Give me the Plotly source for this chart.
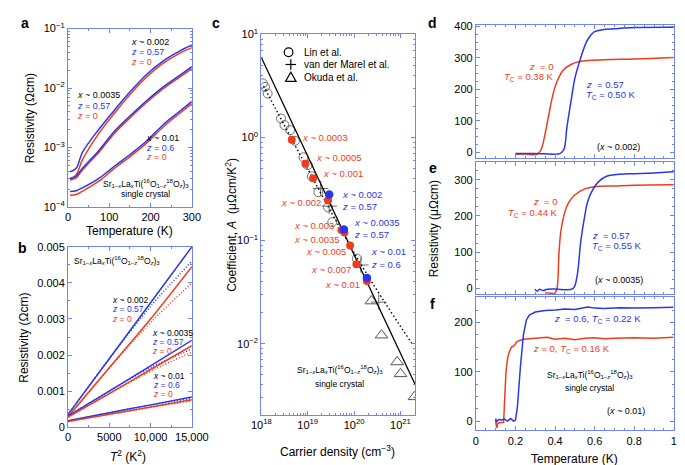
import plotly.graph_objects as go

W, H = 685, 465
def X(px): return px / W
def Y(py): return 1 - py / H

RED = "#f03c1e"
BLUE = "#2a36ea"
AXC = "#7384f0"
GRAY = "#6e6e6e"
FONT = "Liberation Sans, Arial, sans-serif"

# ---------------- data ----------------
# Panel a: resistivity vs temperature (log)
T_a = [5, 20, 35, 74, 113, 152, 191, 230, 269, 300]
a_002_blue = [3.9e-4, 4.5e-4, 8.3e-4, 2.0e-3, 4.3e-3, 8.9e-3, 1.71e-2, 2.84e-2, 4.14e-2, 5.3e-2]
a_002_red = [3.0e-4, 3.5e-4, 6.2e-4, 1.7e-3, 3.8e-3, 8.0e-3, 1.55e-2, 2.6e-2, 3.8e-2, 4.8e-2]
a_0035_blue = [3.0e-4, 3.3e-4, 4.5e-4, 8.8e-4, 1.9e-3, 3.5e-3, 6.2e-3, 1.04e-2, 1.61e-2, 2.29e-2]
a_0035_red = [2.85e-4, 3.1e-4, 4.2e-4, 8.2e-4, 1.75e-3, 3.25e-3, 5.8e-3, 9.7e-3, 1.5e-2, 2.12e-2]
a_01_blue = [1.83e-4, 1.88e-4, 2.1e-4, 3.0e-4, 4.9e-4, 7.8e-4, 1.3e-3, 2.4e-3, 4.0e-3, 6.0e-3]
a_01_red = [1.58e-4, 1.63e-4, 1.85e-4, 2.7e-4, 4.5e-4, 7.2e-4, 1.2e-3, 2.2e-3, 3.7e-3, 5.5e-3]

# Panel b: resistivity vs T^2 (solid and dotted)
T2_b = [0, 5000, 10000, 15000]
b_002_blue = [3.5e-4, 1.9e-3, 3.45e-3, 5.0e-3]
b_002_red = [2.9e-4, 1.65e-3, 3.0e-3, 4.45e-3]
b_002_blue_dot = [3.5e-4, 1.9e-3, 3.35e-3, 4.6e-3]
b_002_red_dot = [2.9e-4, 1.63e-3, 2.9e-3, 4.0e-3]
b_0035_blue = [3.1e-4, 1.0e-3, 1.7e-3, 2.41e-3]
b_0035_red = [2.8e-4, 9.3e-4, 1.6e-3, 2.26e-3]
b_0035_blue_dot = [3.1e-4, 1.0e-3, 1.65e-3, 2.17e-3]
b_0035_red_dot = [2.8e-4, 9.3e-4, 1.55e-3, 2.08e-3]
b_01_blue = [1.8e-4, 4.0e-4, 6.2e-4, 8.4e-4]
b_01_red = [1.6e-4, 3.6e-4, 5.6e-4, 7.6e-4]
b_01_blue_dot = [1.8e-4, 4.0e-4, 6.1e-4, 8.0e-4]
b_01_red_dot = [1.6e-4, 3.6e-4, 5.5e-4, 7.3e-4]

# Panel c: A coefficient vs carrier density
lin_n = [1.08e18, 1.2e18, 1.37e18, 2.65e18, 3.16e18, 4.17e18, 5.3e18, 8.1e18, 1.0e19, 1.23e19, 1.7e19, 2.74e19, 3.39e19, 1.15e20]
lin_A = [3.35, 3.1, 2.67, 1.53, 1.32, 1.18, 0.93, 0.643, 0.54, 0.42, 0.295, 0.21, 0.151, 0.067]
marel_n = [1.9e19, 2.9e19, 1.4e20, 3.4e20]
marel_A = [0.32, 0.216, 0.058, 0.0253]
okuda_n = [2.35e20, 3.9e20, 8.5e20, 1.0e21, 2.0e21]
okuda_A = [0.0259, 0.0121, 0.00665, 0.0051, 0.00305]
red_n = [4.53e18, 8.9e18, 1.31e19, 2.74e19, 5.33e19, 6.2e19, 8.2e19, 1.12e20, 1.89e20]
red_A = [0.95, 0.557, 0.403, 0.246, 0.127, 0.12, 0.0895, 0.059, 0.0406]
blue_n = [2.91e19, 6.03e19, 1.89e20]
blue_A = [0.28, 0.128, 0.0435]
solid_n = [1.0e18, 2.07e21]
solid_A = [5.98, 0.00402]
dotted_n = [1.12e18, 1.17e20, 1.9e21]
dotted_A = [3.16, 0.0676, 0.00955]

# Panel d (x ~ 0.002)
d_red_T = [0.2, 0.25, 0.31, 0.33, 0.35, 0.37, 0.39, 0.41, 0.44, 0.48, 0.53, 0.65, 0.8, 1.0]
d_red_R = [-6, -5, -6, 10, 60, 125, 185, 225, 260, 279, 289, 294, 296, 301]
d_blue_T = [0.2, 0.3, 0.427, 0.445, 0.46, 0.48, 0.5, 0.52, 0.54, 0.56, 0.58, 0.6, 0.64, 0.7, 0.8, 1.0]
d_blue_R = [-3, -3, -3, 10, 80, 160, 235, 280, 320, 352, 372, 383, 389, 392, 396, 397]

# Panel e (x ~ 0.0035)
e_red_T = [0.355, 0.38, 0.4, 0.41, 0.42, 0.43, 0.45, 0.47, 0.5, 0.55, 0.6, 0.7, 0.8, 1.0]
e_red_R = [-12, -14, -13, 0, 100, 160, 212, 238, 258, 275, 281, 283, 285, 286]
e_blue_T = [0.298, 0.31, 0.32, 0.34, 0.36, 0.4, 0.49, 0.51, 0.53, 0.55, 0.565, 0.59, 0.62, 0.66, 0.7, 0.8, 0.9, 1.0]
e_blue_R = [-3, -8, -3, -6, -3, -2, -1, 30, 130, 200, 240, 272, 295, 310, 314, 317, 319, 322]

# Panel f (x ~ 0.01)
f_red_T = [0.099, 0.105, 0.11, 0.12, 0.13, 0.14, 0.145, 0.152, 0.16, 0.168, 0.18, 0.193, 0.205, 0.217, 0.241, 0.28,
           0.32, 0.36, 0.4, 0.45, 0.5, 0.55, 0.6, 0.65, 0.7, 0.8, 0.9, 0.998]
f_red_R = [2, -14, -5, -3, -3, -3, 41, 100, 127, 140, 150, 153, 160, 163, 166, 167,
           168, 170, 166, 168, 165, 168, 169, 167, 168, 169, 168, 170]
f_blue_T = [0.099, 0.105, 0.115, 0.13, 0.145, 0.16, 0.175, 0.19, 0.2, 0.21, 0.225, 0.24, 0.255, 0.27, 0.3,
            0.35, 0.403, 0.45, 0.5, 0.565, 0.6, 0.65, 0.727, 0.8, 0.9, 0.998]
f_blue_R = [5, -1, 3, 2, 4, 0, 5, 0, 2, 30, 110, 175, 205, 215, 221,
            224, 225, 227, 226, 231, 229, 228, 230, 229, 230, 231]

# ---------------- figure ----------------
fig = go.Figure()

def line(x, y, color, xa, ya, dash="solid", width=1.5, shape="linear"):
    fig.add_trace(go.Scatter(x=x, y=y, mode="lines", xaxis=xa, yaxis=ya, showlegend=False,
                             line=dict(color=color, width=width, dash=dash, shape=shape), hoverinfo="skip"))

# a
for yv, c in [(a_002_red, RED), (a_002_blue, BLUE), (a_0035_red, RED), (a_0035_blue, BLUE),
              (a_01_red, RED), (a_01_blue, BLUE)]:
    line(T_a, yv, c, "x", "y", shape="spline")
# b
DOT = "1px,2px"
for yv, c, dsh in [(b_002_blue_dot, BLUE, DOT), (b_002_red_dot, RED, DOT),
                   (b_0035_blue_dot, BLUE, DOT), (b_0035_red_dot, RED, DOT),
                   (b_01_blue_dot, BLUE, DOT), (b_01_red_dot, RED, DOT),
                   (b_002_blue, BLUE, "solid"), (b_002_red, RED, "solid"),
                   (b_0035_blue, BLUE, "solid"), (b_0035_red, RED, "solid"),
                   (b_01_blue, BLUE, "solid"), (b_01_red, RED, "solid")]:
    line(T2_b, yv, c, "x2", "y2", dash=dsh, shape="spline")
# c
fig.add_trace(go.Scatter(x=lin_n, y=lin_A, mode="markers", xaxis="x3", yaxis="y3", showlegend=False,
                         marker=dict(symbol="circle-open", size=9, color=GRAY, line=dict(width=1))))
fig.add_trace(go.Scatter(x=marel_n, y=marel_A, mode="markers", xaxis="x3", yaxis="y3", showlegend=False,
                         marker=dict(symbol="cross-thin-open", size=11, color=GRAY, line=dict(width=1, color=GRAY))))
fig.add_trace(go.Scatter(x=okuda_n, y=okuda_A, mode="markers", xaxis="x3", yaxis="y3", showlegend=False,
                         marker=dict(symbol="triangle-up-open", size=11, color="#555", line=dict(width=1))))
line(solid_n, solid_A, "black", "x3", "y3", width=1.3)
line(dotted_n, dotted_A, "black", "x3", "y3", dash="1.5px,2.5px", width=1.4, shape="spline")
fig.add_trace(go.Scatter(x=red_n, y=red_A, mode="markers", xaxis="x3", yaxis="y3", showlegend=False,
                         marker=dict(symbol="circle", size=8, color=RED)))
fig.add_trace(go.Scatter(x=blue_n, y=blue_A, mode="markers", xaxis="x3", yaxis="y3", showlegend=False,
                         marker=dict(symbol="circle", size=8.5, color=BLUE)))
# d, e, f
line(d_red_T, d_red_R, RED, "x4", "y4", shape="spline")
line(d_blue_T, d_blue_R, BLUE, "x4", "y4", shape="spline")
line(e_red_T, e_red_R, RED, "x5", "y5", shape="spline")
line(e_blue_T, e_blue_R, BLUE, "x5", "y5", shape="spline")
line(f_red_T, f_red_R, RED, "x6", "y6")
line(f_blue_T, f_blue_R, BLUE, "x6", "y6")

# ---------------- axes ----------------
def ax(**kw):
    d = dict(showline=True, linecolor=AXC, linewidth=1, mirror="allticks", ticks="inside",
             ticklen=4, tickcolor=AXC, tickwidth=1, showgrid=False, zeroline=False,
             tickfont=dict(size=11, color="black", family=FONT))
    d.update(kw)
    return d

def minor_lin(dt):
    return dict(ticks="inside", ticklen=2, tickcolor=AXC, showgrid=False, dtick=dt)

def minor_log(e0, e1):
    return dict(ticks="inside", ticklen=2, tickcolor=AXC, showgrid=False,
                tickmode="array", tickvals=[m * 10.0 ** e for e in range(e0, e1) for m in range(2, 10)])

def sup(e):
    return "10<sup>%s</sup>" % (str(e).replace("-", "−"))

xa_a = [X(52), X(181)]
fig.update_layout(
    width=W, height=H, margin=dict(l=0, r=0, t=0, b=0),
    paper_bgcolor="white", plot_bgcolor="white",
    font=dict(family=FONT, color="black"),
    xaxis=ax(domain=xa_a, anchor="y", range=[0, 300], tickvals=[0, 100, 200, 300], minor=minor_lin(50)),
    yaxis=ax(domain=[Y(197), Y(13)], anchor="x", type="log", range=[-4, -1],
             tickvals=[1e-4, 1e-3, 1e-2, 1e-1], ticktext=[sup(-4), sup(-3), sup(-2), sup(-1)],
             minor=minor_log(-4, -1)),
    xaxis2=ax(domain=xa_a, anchor="y2", range=[0, 15000], tickvals=[0, 5000, 10000, 15000],
              ticktext=["0", "5000", "10,000", "15,000"], minor=minor_lin(2500)),
    yaxis2=ax(domain=[Y(424), Y(238)], anchor="x2", range=[0, 0.005],
              tickvals=[0, 0.001, 0.002, 0.003, 0.004, 0.005],
              ticktext=["0", "0.001", "0.002", "0.003", "0.004", "0.005"], minor=minor_lin(0.0005)),
    xaxis3=ax(domain=[X(253.3), X(413.5)], anchor="y3", type="log", range=[18, 21.317],
              tickvals=[1e18, 1e19, 1e20, 1e21], ticktext=[sup(18), sup(19), sup(20), sup(21)],
              minor=minor_log(18, 22)),
    yaxis3=ax(domain=[Y(411), Y(19)], anchor="x3", type="log", range=[-2.688, 1.0],
              tickvals=[1e-2, 1e-1, 1, 10], ticktext=[sup(-2), sup(-1), sup(0), sup(1)],
              minor=minor_log(-3, 1)),
    xaxis4=ax(domain=[X(476.7), X(682.7)], anchor="y4", range=[0, 1], dtick=0.2, showticklabels=False,
              minor=minor_lin(0.05)),
    yaxis4=ax(domain=[Y(146.7), Y(9)], anchor="x4", range=[-18.5, 405], tickvals=[0, 100, 200, 300, 400],
              minor=minor_lin(25)),
    xaxis5=ax(domain=[X(476.7), X(682.7)], anchor="y5", range=[0, 1], dtick=0.2, showticklabels=False,
              minor=minor_lin(0.05)),
    yaxis5=ax(domain=[Y(286.7), Y(151)], anchor="x5", range=[-16, 348], tickvals=[0, 100, 200, 300],
              minor=minor_lin(25)),
    xaxis6=ax(domain=[X(476.7), X(682.7)], anchor="y6", range=[0, 1], tickvals=[0, 0.2, 0.4, 0.6, 0.8, 1],
              ticktext=["0", "0.2", "0.4", "0.6", "0.8", "1"], minor=minor_lin(0.05)),
    yaxis6=ax(domain=[Y(427.3), Y(290)], anchor="x6", range=[-19, 251], tickvals=[0, 100, 200],
              minor=minor_lin(25)),
)

# ---------------- text ----------------
ann = []
def txt(s, px, py, color="black", size=9, xanchor="left", angle=0, bold=False):
    if bold:
        s = "<b>%s</b>" % s
    ann.append(dict(text=s, x=X(px), y=Y(py), xref="paper", yref="paper", showarrow=False,
                    xanchor=xanchor, yanchor="middle", textangle=angle, borderpad=0,
                    font=dict(size=size, color=color, family=FONT)))

FORM = "Sr<sub>1−<i>x</i></sub>La<sub><i>x</i></sub>Ti(<sup>16</sup>O<sub>1−<i>z</i></sub><sup>18</sup>O<sub><i>z</i></sub>)<sub>3</sub>"

# panel letters
for s, px, py in [("a", 7, 7), ("b", 5, 239), ("c", 206, 7), ("d", 432, 7), ("e", 432, 157), ("f", 431, 297)]:
    txt(s, px, py, size=14, xanchor="center", bold=True)

# axis titles
txt("Resistivity (Ωcm)", 12, 106, size=12, xanchor="center", angle=-90)
txt("Temperature (K)", 116, 222, size=12, xanchor="center")
txt("Resistivity (Ωcm)", 6, 332, size=12, xanchor="center", angle=-90)
txt("<i>T</i><sup>2</sup> (K<sup>2</sup>)", 115, 454, size=12, xanchor="center")
txt("Coefficient, <i>A</i>  (μΩcm/K<sup>2</sup>)", 221, 215, size=12, xanchor="center", angle=-90)
txt("Carrier density (cm<sup>−3</sup>)", 333, 449, size=12, xanchor="center")
txt("Resistivity (μΩcm)", 433, 219, size=12, xanchor="center", angle=-90)
txt("Temperature (K)", 579, 457, size=12, xanchor="center")

# panel a labels
for s, px, py, c in [("<i>x</i> ~ 0.002", 116.7, 26.7, "black"), ("<i>z</i> = 0.57", 116.7, 37.3, BLUE),
                     ("<i>z</i> = 0", 116.7, 47.7, RED),
                     ("<i>x</i> ~ 0.0035", 60, 81.7, "black"), ("<i>z</i> = 0.57", 60, 92.7, BLUE),
                     ("<i>z</i> = 0", 60, 102.7, RED),
                     ("<i>x</i> ~ 0.01", 131.7, 126, "black"), ("<i>z</i> = 0.6", 131.7, 136, BLUE),
                     ("<i>z</i> = 0", 131.7, 145.7, RED)]:
    txt(s, px, py, c, size=9)
txt(FORM, 133, 173, size=8.5, xanchor="center")
txt("single crystal", 133, 184, size=8.5, xanchor="center")

# panel b labels
txt(FORM, 57, 252, size=8.5)
for s, px, py, c in [("<i>x</i> ~ 0.002", 96.7, 293, "black"), ("<i>z</i> = 0.57", 96.7, 302.5, BLUE),
                     ("<i>z</i> = 0", 96.7, 312, RED),
                     ("<i>x</i> ~ 0.0035", 138.3, 327, "black"), ("<i>z</i> = 0.57", 138.3, 336, BLUE),
                     ("<i>z</i> = 0", 138.3, 345, RED),
                     ("<i>x</i> ~ 0.01", 140, 371, "black"), ("<i>z</i> = 0.6", 140, 380.3, BLUE),
                     ("<i>z</i> = 0", 140, 389.6, RED)]:
    txt(s, px, py, c, size=8.5)

# panel c legend
fig.add_shape(type="circle", xref="paper", yref="paper", x0=X(277.2), x1=X(286.2), y0=Y(41.8), y1=Y(32.8),
              line=dict(color="black", width=1.2))
fig.add_shape(type="line", xref="paper", yref="paper", x0=X(278.5), x1=X(289.5), y0=Y(50), y1=Y(50),
              line=dict(color="black", width=1.2))
fig.add_shape(type="line", xref="paper", yref="paper", x0=X(284), x1=X(284), y0=Y(44.5), y1=Y(55.5),
              line=dict(color="black", width=1.2))
fig.add_shape(type="path", xref="paper", yref="paper",
              path="M %f %f L %f %f L %f %f Z" % (X(278.5), Y(67.5), X(289.5), Y(67.5), X(284), Y(58)),
              line=dict(color="black", width=1.2))
txt("Lin et al.", 296.7, 37.3, size=10)
txt("van der Marel et al.", 296.7, 50, size=10)
txt("Okuda et al.", 296.7, 63, size=10)

# panel c point labels
for s, px, py, anc in [("<i>x</i> ~ 0.0003", 295, 125.5, "left"), ("<i>x</i> ~ 0.0005", 309.3, 146, "left"),
                       ("<i>x</i> ~ 0.001", 316, 162.3, "left"), ("<i>x</i> ~ 0.002", 316, 192, "right"),
                       ("<i>x</i> ~ 0.003", 330, 216, "right"), ("<i>x</i> ~ 0.0035", 336.5, 230, "right"),
                       ("<i>x</i> ~ 0.005", 342, 243.3, "right"), ("<i>x</i> ~ 0.007", 348, 261.7, "right"),
                       ("<i>x</i> ~ 0.01", 357.5, 277.3, "right")]:
    txt(s, px, py, RED, size=9.5, xanchor=anc)
for s, px, py in [("<i>x</i> ~ 0.002", 336, 184), ("<i>z</i> = 0.57", 336, 196.7),
                  ("<i>x</i> ~ 0.0035", 348.3, 213.3), ("<i>z</i> = 0.57", 348.3, 225.7),
                  ("<i>x</i> ~ 0.01", 366, 243.3), ("<i>z</i> = 0.6", 366, 256.7)]:
    txt(s, px, py, BLUE, size=9.5)
txt(FORM, 335, 364, size=8.5, xanchor="center")
txt("single crystal", 335, 379, size=8.5, xanchor="center")

# panel d
txt("<i>z</i>  = 0", 559, 52.3, RED, size=9.5, xanchor="right")
txt("<i>T</i><sub>C</sub> = 0.38 K", 559, 62.7, RED, size=9.5, xanchor="right")
txt("<i>z</i>  = 0.57", 590, 70.7, BLUE, size=9.5)
txt("<i>T</i><sub>C</sub> = 0.50 K", 590, 81, BLUE, size=9.5)
txt("(<i>x</i> ~ 0.002)", 602, 135, size=9)
# panel e
txt("<i>z</i>  = 0", 563.3, 191.7, RED, size=9.5, xanchor="right")
txt("<i>T</i><sub>C</sub> = 0.44 K", 563.3, 203.3, RED, size=9.5, xanchor="right")
txt("<i>z</i>  = 0.57", 596.7, 226, BLUE, size=9.5)
txt("<i>T</i><sub>C</sub> = 0.55 K", 596.7, 237.3, BLUE, size=9.5)
txt("(<i>x</i> ~ 0.0035)", 600, 271.7, size=9)
# panel f
txt("<i>z</i>  = 0.6, <i>T</i><sub>C</sub> = 0.22 K", 556.7, 312.7, BLUE, size=9.5)
txt("<i>z</i> = 0, <i>T</i><sub>C</sub> = 0.16 K", 535, 343.3, RED, size=9.5)
txt(FORM, 595, 370, size=8.5, xanchor="center")
txt("single crystal", 595, 383.5, size=8.5, xanchor="center")
txt("(<i>x</i> ~ 0.01)", 611.7, 407.3, size=9)

fig.update_layout(annotations=ann)
fig.write_html("out.html")
